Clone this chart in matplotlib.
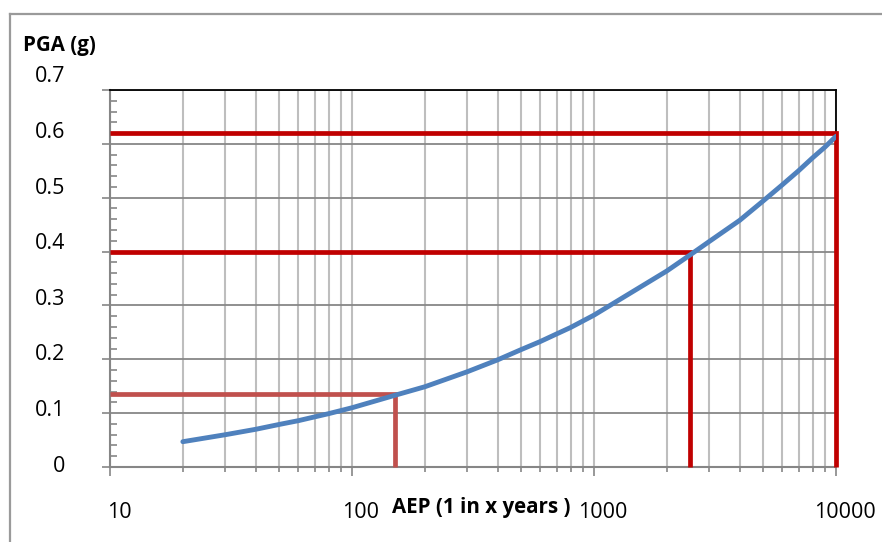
import numpy as np
import matplotlib
matplotlib.use("Agg")
import matplotlib.pyplot as plt
from matplotlib.ticker import LogLocator, MultipleLocator, NullFormatter
from matplotlib.transforms import ScaledTranslation
from matplotlib.lines import Line2D

plt.rcParams['font.family'] = ['Open Sans', 'DejaVu Sans']

# hazard curve: return period (years) vs peak ground acceleration
aep_years = [20, 30, 40, 50, 60, 70, 80, 100, 150, 200, 300, 400, 500, 600, 700,
             800, 1000, 2000, 2500, 3000, 4000, 5000, 6000, 7000, 8000, 9000, 10000]
pga_g = [0.047, 0.060, 0.070, 0.079, 0.086, 0.093, 0.099, 0.110, 0.133, 0.149,
         0.177, 0.199, 0.218, 0.233, 0.247, 0.259, 0.282, 0.364, 0.394, 0.419,
         0.458, 0.494, 0.524, 0.550, 0.574, 0.594, 0.614]

# design levels
design_years = [150, 2500, 10000]
design_pga = [0.135, 0.40, 0.62]
design_colors = ['#C0504D', '#C00000', '#C00000']

y_ticks = [0, 0.1, 0.2, 0.3, 0.4, 0.5, 0.6, 0.7]
x_ticks = [10, 100, 1000, 10000]
x_tick_labels = ['10', '100', '1000', '10000']

W, H = 882, 542
fig = plt.figure(figsize=(W / 100, H / 100), dpi=100)

# outer chart border (only top and left show)
fig.add_artist(Line2D([10 / W, 1], [1 - 14 / H, 1 - 14 / H], color='#9A9A9A', lw=1.6))
fig.add_artist(Line2D([10 / W, 10 / W], [1 - 14 / H, 0], color='#9A9A9A', lw=1.6))

left, right, top, bottom = 110, 836, 90, 467
ax = fig.add_axes([left / W, 1 - bottom / H, (right - left) / W, (bottom - top) / H])

ax.set_xscale('log')
ax.set_xlim(10, 10000)
ax.set_ylim(0, 0.7)

# grid
ax.xaxis.set_major_locator(LogLocator(base=10, numticks=10))
ax.xaxis.set_minor_locator(LogLocator(base=10, subs=np.arange(2, 10), numticks=10))
ax.xaxis.set_minor_formatter(NullFormatter())
ax.yaxis.set_major_locator(MultipleLocator(0.1))
ax.yaxis.set_minor_locator(MultipleLocator(0.02))
ax.grid(which='both', axis='x', color='#BEBEBE', lw=1.5)
ax.grid(which='major', axis='y', color='#878787', lw=1.3)
ax.set_axisbelow(True)

for s in ['top', 'right']:
    ax.spines[s].set_color('black')
    ax.spines[s].set_linewidth(1.3)
for s in ['left', 'bottom']:
    ax.spines[s].set_color('#868686')
    ax.spines[s].set_linewidth(1.5)

ax.tick_params(axis='x', which='major', direction='out', length=6.5, width=1.2,
               color='#868686', labelsize=15.5, pad=19)
ax.tick_params(axis='x', which='minor', direction='out', length=3.5, width=1.2,
               color='#868686')
ax.tick_params(axis='y', which='major', direction='out', length=6, width=1.2,
               color='#868686', labelleft=False)
ax.tick_params(axis='y', which='minor', direction='in', length=5, width=1.2,
               color='#868686')

ax.set_xticks(x_ticks)
ax.set_xticklabels(x_tick_labels)
shift = ScaledTranslation(9 / 100, 0, fig.dpi_scale_trans)
for lab in ax.get_xticklabels():
    lab.set_transform(lab.get_transform() + shift)

# y labels sit on a slightly wider pitch than the grid
for k, v in enumerate(y_ticks):
    ypix = 466 - k * 55.6
    fig.text(65 / W, 1 - ypix / H, f'{v:g}', ha='right', va='center', fontsize=15.5)

# design level guides
for yr, g, c in zip(design_years, design_pga, design_colors):
    ax.plot([10, yr, yr], [g, g, 0], color=c, lw=3.4, solid_capstyle='butt',
            solid_joinstyle='miter', clip_on=False, zorder=3)

ax.plot(aep_years, pga_g, color='#4F81BD', lw=3.5, solid_capstyle='round', zorder=4)

fig.text(23 / W, 1 - 46 / H, 'PGA (g)', ha='left', va='center', fontsize=14.8,
         fontweight='bold')
fig.text(392 / W, 1 - 508 / H, 'AEP (1 in x years )', ha='left', va='center',
         fontsize=14.8, fontweight='bold')

fig.savefig('out.png', dpi=100)
